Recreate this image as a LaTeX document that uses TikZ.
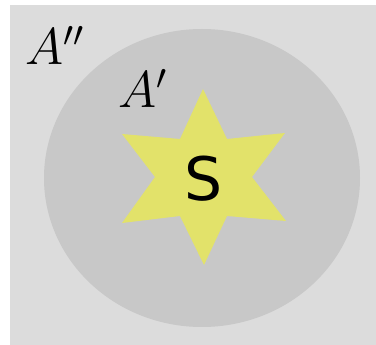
\documentclass[tikz,border=0pt]{standalone}
\usepackage{fontspec}
\newfontfamily\dejavu{DejaVu Sans}
\definecolor{bgray}{RGB}{220,220,220}
\definecolor{egray}{RGB}{200,200,200}
\definecolor{staryellow}{RGB}{226,226,106}
\begin{document}
\begin{tikzpicture}[x=1pt,y=-1pt,
  lbl/.style={inner sep=0pt,font=\huge,scale=2.5,transform shape}]
\useasboundingbox (0,0) rectangle (376,345);
\fill[bgray] (10,5) rectangle (376,345);
\fill[egray] (202,178) ellipse [x radius=158pt, y radius=149pt];
\fill[staryellow] (203,89) -- (227,139) -- (285,133) -- (252,177) -- (286,221)
  -- (227,216) -- (204,265) -- (180,216) -- (122,223) -- (155,177) -- (122,134)
  -- (180,139) -- cycle;
\node[lbl,anchor=base west] (app) at (25,65) {$A''$};
\node[lbl,anchor=base west] (ap) at (118,108) {$A'$};
\node[inner sep=0pt,anchor=base,font=\dejavu\fontsize{60}{66}\selectfont] (s) at (204,201) {S};
\end{tikzpicture}
\end{document}
